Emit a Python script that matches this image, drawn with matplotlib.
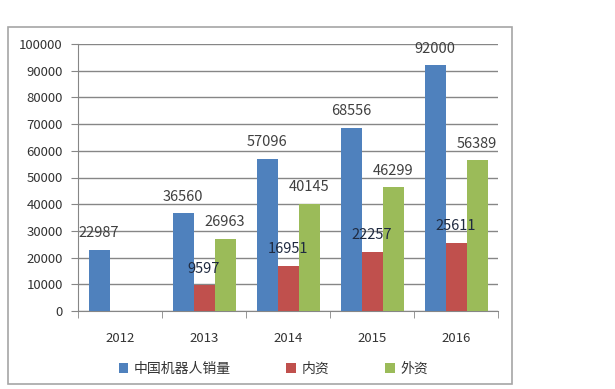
import matplotlib
matplotlib.use("Agg")
import matplotlib.pyplot as plt
import numpy as np
from matplotlib.patches import Rectangle

plt.rcParams['font.family'] = ['Noto Sans CJK SC', 'DejaVu Sans']

years = ["2012", "2013", "2014", "2015", "2016"]
total = [22987, 36560, 57096, 68556, 92000]
domestic = [None, 9597, 16951, 22257, 25611]
foreign = [None, 26963, 40145, 46299, 56389]
names = ["中国机器人销量", "内资", "外资"]
colors = ["#4F81BD", "#C0504D", "#9BBB59"]
label_colors = ["#404040", "#1F2A40", "#404040"]

fig = plt.figure(figsize=(6.15, 3.89), dpi=100)
# outer frame
fig.patches.append(Rectangle((8 / 615, 1 - 384 / 389), 504 / 615, 357 / 389,
                             transform=fig.transFigure, fill=False,
                             edgecolor="#a6a6a6", linewidth=1.2))

ax = fig.add_axes([78 / 615, 78 / 389, 420 / 615, 267 / 389])

x = np.arange(len(years))
w = 0.25
for k, series in enumerate([total, domestic, foreign]):
    xs = [x[i] + (k - 1) * w for i in range(len(years)) if series[i] is not None]
    vals = [v for v in series if v is not None]
    ax.bar(xs, vals, width=w, color=colors[k], label=names[k], zorder=3)
    for xx, v in zip(xs, vals):
        ax.text(xx, v + 6200, str(v), ha="center", va="center",
                fontsize=10.5, color=label_colors[k], zorder=4)

ax.set_xlim(-0.5, len(years) - 0.5)
ax.set_ylim(0, 100000)
ax.set_yticks(np.arange(0, 100001, 10000))
ax.set_xticks(x)
ax.set_xticklabels(years)
ax.set_xticks(np.arange(-0.5, len(years), 1), minor=True)
ax.tick_params(axis="x", which="major", length=0, pad=15, labelsize=9.5, labelcolor="#333333")
ax.tick_params(axis="x", which="minor", length=5, color="#868686", direction="out")
ax.tick_params(axis="y", length=5, color="#868686", labelsize=9.5, labelcolor="#333333", pad=6)
ax.grid(axis="y", color="#868686", linewidth=1, zorder=0)
for s in ["top", "right"]:
    ax.spines[s].set_visible(False)
for s in ["left", "bottom"]:
    ax.spines[s].set_color("#868686")

ax.legend(loc="center", bbox_to_anchor=(0.465, -0.217), ncol=3, frameon=False,
          handlelength=0.7, handleheight=0.7, handletextpad=0.4, columnspacing=4.0,
          fontsize=10, labelcolor="#333333")

fig.savefig("out.png", dpi=100)
